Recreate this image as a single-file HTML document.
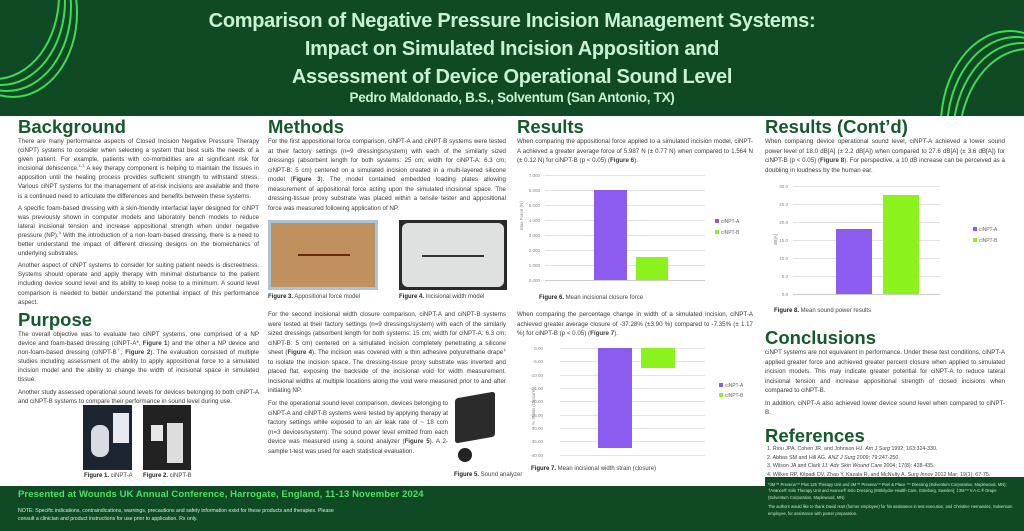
<!DOCTYPE html>
<html><head><meta charset="utf-8"><style>
*{margin:0;padding:0;box-sizing:border-box}
body{width:1024px;height:531px;position:relative;overflow:hidden;background:#fff;font-family:"Liberation Sans",sans-serif;color:#333}
.hdr{position:absolute;left:0;top:0;width:1024px;height:116px;background:#0f4a25;overflow:hidden}
.t{position:absolute;left:0;width:1024px;text-align:center;color:#c8f2d2;font-weight:bold;font-size:20px;line-height:22px;letter-spacing:-0.3px}
.abs{position:absolute}
h2{position:absolute;font-size:18.5px;line-height:20px;color:#145a2a;font-weight:bold}
.p{position:absolute;font-size:6.2px;line-height:9.5px;text-align:justify;color:#3a3a3a}
.p p{margin-bottom:3px}
.lc{line-height:9.1px}
sup{font-size:4px;line-height:0;vertical-align:3px}
.cap{position:absolute;font-size:6px;color:#444}
.cap b{color:#222}
.ax{position:absolute;font-size:4.5px;color:#888;text-align:right}
.gl{position:absolute;height:1px;background:#e3e3e3}
.leg{position:absolute;font-size:5px;color:#666}
.leg i{display:inline-block;width:4px;height:4px;margin-right:2px}
.ring{position:absolute;border:2px solid #3ddc55;border-radius:50%}
</style></head><body>
<div class="hdr">
<div class="ring" style="left:-70px;top:-90px;width:130px;height:170px"></div>
<div class="ring" style="left:-64px;top:-84px;width:130px;height:170px"></div>
<div class="ring" style="left:-58px;top:-78px;width:130px;height:170px"></div>
<div class="ring" style="left:-52px;top:-72px;width:130px;height:170px"></div>
<div class="ring" style="left:940px;top:30px;width:140px;height:190px"></div>
<div class="ring" style="left:946px;top:36px;width:140px;height:190px"></div>
<div class="ring" style="left:952px;top:42px;width:140px;height:190px"></div>
<div class="ring" style="left:958px;top:48px;width:140px;height:190px"></div>
<div class="t" style="top:10px">Comparison of Negative Pressure Incision Management Systems:</div>
<div class="t" style="top:38px">Impact on Simulated Incision Apposition and</div>
<div class="t" style="top:66px">Assessment of Device Operational Sound Level</div>
<div class="t" style="top:90px;font-size:13.5px;line-height:16px">Pedro Maldonado, B.S., Solventum (San Antonio, TX)</div>
</div>

<h2 style="left:18px;top:117px">Background</h2>
<div class="p lc" style="left:18px;top:137px;width:241px">
<p>There are many performance aspects of Closed Incision Negative Pressure Therapy (ciNPT) systems to consider when selecting a system that best suits the needs of a given patient. For example, patients with co-morbidities are at significant risk for incisional dehiscence.<sup>1-3</sup> A key therapy component is helping to maintain the tissues in apposition until the healing process provides sufficient strength to withstand stress. Various ciNPT systems for the management of at-risk incisions are available and there is a continued need to articulate the differences and benefits between these systems.</p>
<p>A specific foam-based dressing with a skin-friendly interfacial layer designed for ciNPT was previously shown in computer models and laboratory bench models to reduce lateral incisional tension and increase appositional strength when under negative pressure (NP).<sup>4</sup> With the introduction of a non-foam-based dressing, there is a need to better understand the impact of different dressing designs on the biomechanics of underlying substrates.</p>
<p>Another aspect of ciNPT systems to consider for suiting patient needs is discreetness. Systems should operate and apply therapy with minimal disturbance to the patient including device sound level and its ability to keep noise to a minimum. A sound level comparison is needed to better understand the potential impact of this performance aspect.</p>
</div>
<h2 style="left:18px;top:310px">Purpose</h2>
<div class="p lc" style="left:18px;top:330px;width:241px">
<p>The overall objective was to evaluate two ciNPT systems, one comprised of a NP device and foam-based dressing (ciNPT-A*, <b>Figure 1</b>) and the other a NP device and non-foam-based dressing (ciNPT-B<sup>†</sup>, <b>Figure 2</b>). The evaluation consisted of multiple studies including assessment of the ability to apply appositional force to a simulated incision model and the ability to change the width of incisional space in simulated tissue.</p>
<p>Another study assessed operational sound levels for devices belonging to both ciNPT-A and ciNPT-B systems to compare their performance in sound level during use.</p>
</div>
<div class="abs" style="left:83px;top:405px;width:49px;height:65px;background:#1d2530"><div class="abs" style="left:8px;top:20px;width:18px;height:32px;background:#d8dce0;border-radius:8px"></div><div class="abs" style="left:30px;top:8px;width:16px;height:30px;background:#e8eaf0"></div></div>
<div class="abs" style="left:143px;top:405px;width:48px;height:65px;background:#222"><div class="abs" style="left:8px;top:20px;width:12px;height:16px;background:#e6e6e6"></div><div class="abs" style="left:24px;top:18px;width:16px;height:40px;background:#ddd"></div></div>
<div class="cap" style="left:84px;top:473px"><b>Figure 1.</b> ciNPT-A</div>
<div class="cap" style="left:143px;top:473px"><b>Figure 2.</b> ciNPT-B</div>

<h2 style="left:268px;top:117px">Methods</h2>
<div class="p" style="left:268px;top:137px;width:238px">For the first appositional force comparison, ciNPT-A and ciNPT-B systems were tested at their factory settings (n=9 dressings/system) with each of the similarly sized dressings (absorbent length for both systems: 25 cm; width for ciNPT-A: 6.3 cm; ciNPT-B: 5 cm) centered on a simulated incision created in a multi-layered silicone model (<b>Figure 3</b>). The model contained embedded loading plates allowing measurement of appositional force acting upon the simulated incisional space. The dressing-tissue proxy substrate was placed within a tensile tester and appositional force was measured following application of NP.</div>
<div class="abs" style="left:268px;top:220px;width:110px;height:70px;background:#a9c4d8"><div class="abs" style="left:3px;top:3px;width:104px;height:64px;background:#c0905e"></div><div class="abs" style="left:30px;top:34px;width:52px;height:2px;background:#6a2a10"></div></div>
<div class="abs" style="left:399px;top:220px;width:108px;height:70px;background:#2a2a2a"><div class="abs" style="left:3px;top:3px;width:102px;height:64px;background:#dfe1e0;border-radius:6px"></div><div class="abs" style="left:23px;top:35px;width:62px;height:2px;background:#333"></div></div>
<div class="cap" style="left:268px;top:294px"><b>Figure 3.</b> Appositional force model</div>
<div class="cap" style="left:399px;top:294px"><b>Figure 4.</b> Incisional width model</div>
<div class="p" style="left:268px;top:310px;width:238px">For the second incisional width closure comparison, ciNPT-A and ciNPT-B systems were tested at their factory settings (n=9 dressings/system) with each of the similarly sized dressings (absorbent length for both systems: 15 cm; width for ciNPT-A: 6.3 cm; ciNPT-B: 5 cm) centered on a simulated incision completely penetrating a silicone sheet (<b>Figure 4</b>). The incision was covered with a thin adhesive polyurethane drape<sup>‡</sup> to isolate the incision space. The dressing-tissue proxy substrate was inverted and placed flat, exposing the backside of the incisional void for width measurement. Incisional widths at multiple locations along the void were measured prior to and after initiating NP.</div>
<div class="p" style="left:268px;top:399px;width:180px">For the operational sound level comparison, devices belonging to ciNPT-A and ciNPT-B systems were tested by applying therapy at factory settings while exposed to an air leak rate of ~ 18 ccm (n=3 devices/system). The sound power level emitted from each device was measured using a sound analyzer (<b>Figure 5</b>). A 2-sample t-test was used for each statistical evaluation.</div>
<div class="abs" style="left:455px;top:395px;width:40px;height:45px;background:#2b2b2b;transform:skewY(-10deg);border-radius:3px"></div>
<div class="abs" style="left:458px;top:448px;width:14px;height:14px;background:#222;border-radius:50%"></div>
<div class="cap" style="left:454px;top:472px"><b>Figure 5.</b> Sound analyzer</div>

<h2 style="left:517px;top:117px">Results</h2>
<div class="p" style="left:517px;top:137px;width:236px">When comparing the appositional force applied to a simulated incision model, ciNPT-A achieved a greater average force of 5.987 N (± 0.77 N) when compared to 1.564 N (± 0.12 N) for ciNPT-B (p &lt; 0.05) (<b>Figure 6</b>).</div>
<div class="ax" style="left:526px;top:173px;width:14px">7.000</div><div class="gl" style="left:545px;top:175px;width:160px"></div>
<div class="ax" style="left:526px;top:188px;width:14px">6.000</div><div class="gl" style="left:545px;top:190px;width:160px"></div>
<div class="ax" style="left:526px;top:203px;width:14px">5.000</div><div class="gl" style="left:545px;top:205px;width:160px"></div>
<div class="ax" style="left:526px;top:218px;width:14px">4.000</div><div class="gl" style="left:545px;top:220px;width:160px"></div>
<div class="ax" style="left:526px;top:233px;width:14px">3.000</div><div class="gl" style="left:545px;top:235px;width:160px"></div>
<div class="ax" style="left:526px;top:248px;width:14px">2.000</div><div class="gl" style="left:545px;top:250px;width:160px"></div>
<div class="ax" style="left:526px;top:263px;width:14px">1.000</div><div class="gl" style="left:545px;top:265px;width:160px"></div>
<div class="ax" style="left:526px;top:278px;width:14px">0.000</div><div class="gl" style="left:545px;top:280px;width:160px;background:#ccc"></div>
<div class="abs" style="left:519px;top:230px;font-size:4.5px;color:#888;transform:rotate(-90deg);transform-origin:left top;white-space:nowrap">Max Force (N)</div>
<div class="abs" style="left:594px;top:190px;width:33px;height:90px;background:#8c5cf0"></div>
<div class="abs" style="left:636px;top:257px;width:32px;height:23px;background:#8cf21c"></div>
<div class="leg" style="left:715px;top:219px"><i style="background:#8c5cf0"></i>ciNPT-A</div>
<div class="leg" style="left:715px;top:230px"><i style="background:#8cf21c"></i>ciNPT-B</div>
<div class="cap" style="left:539px;top:295px"><b>Figure 6.</b> Mean incisional closure force</div>

<div class="p" style="left:517px;top:310px;width:236px">When comparing the percentage change in width of a simulated incision, ciNPT-A achieved greater average closure of -37.28% (±3.90 %) compared to -7.35% (± 1.17 %) for ciNPT-B (p &lt; 0.05) (<b>Figure 7</b>).</div>
<div class="ax" style="left:527px;top:346px;width:16px">0.00</div><div class="gl" style="left:560px;top:348px;width:145px"></div>
<div class="ax" style="left:527px;top:359px;width:16px">-5.00</div><div class="gl" style="left:560px;top:361px;width:145px"></div>
<div class="ax" style="left:527px;top:373px;width:16px">-10.00</div><div class="gl" style="left:560px;top:375px;width:145px"></div>
<div class="ax" style="left:527px;top:386px;width:16px">-15.00</div><div class="gl" style="left:560px;top:388px;width:145px"></div>
<div class="ax" style="left:527px;top:399px;width:16px">-20.00</div><div class="gl" style="left:560px;top:401px;width:145px"></div>
<div class="ax" style="left:527px;top:413px;width:16px">-25.00</div><div class="gl" style="left:560px;top:415px;width:145px"></div>
<div class="ax" style="left:527px;top:426px;width:16px">-30.00</div><div class="gl" style="left:560px;top:428px;width:145px"></div>
<div class="ax" style="left:527px;top:439px;width:16px">-35.00</div><div class="gl" style="left:560px;top:441px;width:145px"></div>
<div class="ax" style="left:527px;top:453px;width:16px">-40.00</div><div class="gl" style="left:560px;top:455px;width:145px"></div>
<div class="abs" style="left:531px;top:425px;font-size:4.5px;color:#888;transform:rotate(-90deg);transform-origin:left top;white-space:nowrap">% Strain (Closure)</div>
<div class="abs" style="left:598px;top:348px;width:34px;height:100px;background:#8c5cf0"></div>
<div class="abs" style="left:641px;top:348px;width:34px;height:20px;background:#8cf21c"></div>
<div class="leg" style="left:719px;top:383px"><i style="background:#8c5cf0"></i>ciNPT-A</div>
<div class="leg" style="left:719px;top:393px"><i style="background:#8cf21c"></i>ciNPT-B</div>
<div class="cap" style="left:531px;top:466px"><b>Figure 7.</b> Mean incisional width strain (closure)</div>

<h2 style="left:765px;top:117px">Results (Cont’d)</h2>
<div class="p" style="left:765px;top:137px;width:240px">When comparing device operational sound level, ciNPT-A achieved a lower sound power level of 18.0 dB[A] (± 2.2 dB[A]) when compared to 27.6 dB[A] (± 3.6 dB[A]) for ciNPT-B (p &lt; 0.05) (<b>Figure 8</b>). For perspective, a 10 dB increase can be perceived as a doubling in loudness by the human ear.</div>
<div class="ax" style="left:776px;top:184px;width:12px">30.0</div><div class="gl" style="left:793px;top:186px;width:147px"></div>
<div class="ax" style="left:776px;top:202px;width:12px">25.0</div><div class="gl" style="left:793px;top:204px;width:147px"></div>
<div class="ax" style="left:776px;top:220px;width:12px">20.0</div><div class="gl" style="left:793px;top:222px;width:147px"></div>
<div class="ax" style="left:776px;top:238px;width:12px">15.0</div><div class="gl" style="left:793px;top:240px;width:147px"></div>
<div class="ax" style="left:776px;top:256px;width:12px">10.0</div><div class="gl" style="left:793px;top:258px;width:147px"></div>
<div class="ax" style="left:776px;top:274px;width:12px">5.0</div><div class="gl" style="left:793px;top:276px;width:147px"></div>
<div class="ax" style="left:776px;top:292px;width:12px">0.0</div><div class="gl" style="left:793px;top:294px;width:147px;background:#ccc"></div>
<div class="abs" style="left:773px;top:245px;font-size:4.5px;color:#888;transform:rotate(-90deg);transform-origin:left top">dB[A]</div>
<div class="abs" style="left:836px;top:229px;width:36px;height:65px;background:#8c5cf0"></div>
<div class="abs" style="left:883px;top:195px;width:36px;height:99px;background:#8cf21c"></div>
<div class="leg" style="left:973px;top:227px"><i style="background:#8c5cf0"></i>ciNPT-A</div>
<div class="leg" style="left:973px;top:238px"><i style="background:#8cf21c"></i>ciNPT-B</div>
<div class="cap" style="left:774px;top:308px"><b>Figure 8.</b> Mean sound power results</div>

<h2 style="left:765px;top:328px">Conclusions</h2>
<div class="p" style="left:765px;top:348px;width:240px">
<p>ciNPT systems are not equivalent in performance. Under these test conditions, ciNPT-A applied greater force and achieved greater percent closure when applied to simulated incision models. This may indicate greater potential for ciNPT-A to reduce lateral incisional tension and increase appositional strength of closed incisions when compared to ciNPT-B.</p>
<p>In addition, ciNPT-A also achieved lower device sound level when compared to ciNPT-B.</p>
</div>
<h2 style="left:765px;top:426px">References</h2>
<div class="abs" style="left:767px;top:445px;font-size:5.3px;line-height:8.6px;color:#444">
1. Riou JPA, Cohen JR, and Johnson HJ. <i>Am J Surg</i> 1992; 163:324-330.<br>
2. Abbas SM and Hill AG. <i>ANZ J Surg</i> 2009; 79:247-250.<br>
3. Wilson JA and Clark JJ. <i>Adv Skin Wound Care</i> 2004; 17(8): 428-435.<br>
4. Wilkes RP, Kilpadi DV, Zhao Y, Kazala R, and McNulty A. <i>Surg Innov</i> 2012 Mar; 19(1): 67-75.</div>

<div class="abs" style="left:0;top:486px;width:1024px;height:45px;background:#0f4a25"></div>
<div class="abs" style="left:765px;top:477px;width:259px;height:54px;background:#0f4a25"></div>
<div class="abs" style="left:18px;top:489px;font-size:9.5px;color:#4ee060;font-weight:bold;letter-spacing:0.1px">Presented at Wounds UK Annual Conference, Harrogate, England, 11-13 November 2024</div>
<div class="abs" style="left:18px;top:507px;font-size:5.2px;line-height:8px;color:#d8f0dc">NOTE: Specific indications, contraindications, warnings, precautions and safety information exist for these products and therapies. Please<br>consult a clinician and product instructions for use prior to application. Rx only.</div>
<div class="abs" style="left:768px;top:482px;width:245px;font-size:4.1px;line-height:6.4px;color:#c8e8cc">*3M™ Prevena™ Plus 125 Therapy Unit and 3M™ Prevena™ Peel &amp; Place ™ Dressing (Solventum Corporation, Maplewood, MN); †Avance® Solo Therapy Unit and Avance® Solo Dressing (Mölnlycke Health Care, Göteborg, Sweden); ‡3M™ V.A.C.® Drape (Solventum Corporation, Maplewood, MN)<br><span style="display:block;margin-top:3px">The authors would like to thank David Hart (former employee) for his assistance in test execution, and Christine Hernandez, Solventum employee, for assistance with poster preparation.</span></div>
</body></html>
